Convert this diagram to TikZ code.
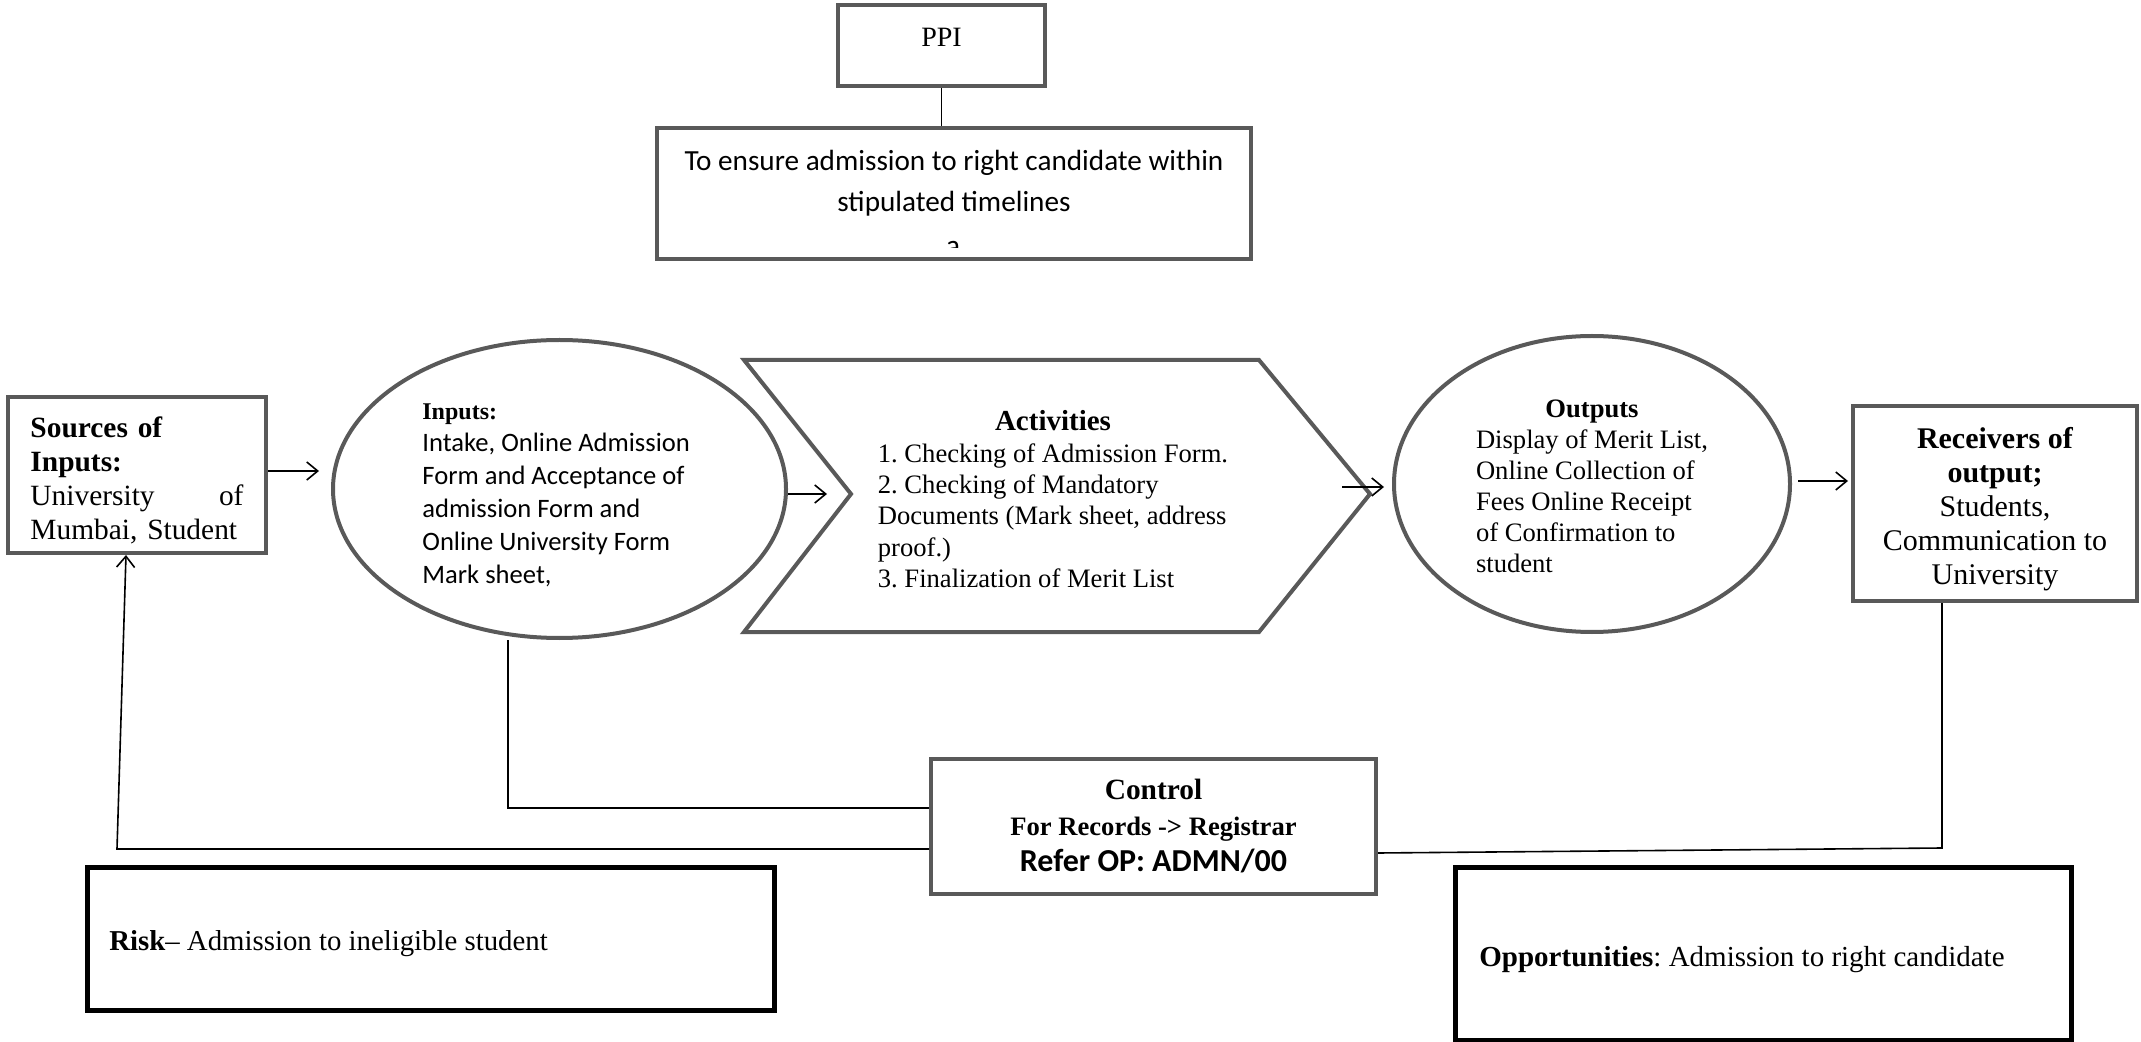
\documentclass[tikz,border=0pt]{standalone}
\usepackage{fontspec}
\setmainfont{Liberation Serif}
\newfontfamily\calfont{Carlito}
\usetikzlibrary{arrows.meta,shapes.geometric}
\definecolor{boxgray}{RGB}{89,89,89}
\newcommand\setfs[2]{\fontsize{#1}{#2}\selectfont}
\frenchspacing
\begin{document}
\begin{tikzpicture}[x=0.5pt,y=-0.5pt,
  gbox/.style={draw=boxgray,line width=2pt,rectangle,inner sep=0pt},
  bbox/.style={draw=black,line width=2.5pt,rectangle,inner sep=0pt},
  gell/.style={draw=boxgray,line width=2pt,ellipse,inner sep=0pt},
  conn/.style={draw=black,line width=0.8pt},
  arr/.style={conn,-{Straight Barb[length=5.5pt,width=9pt]}},
  txt/.style={inner sep=0pt}
  ]
\useasboundingbox (0,0) rectangle (2141,1042);

% PPI and goal
\node[gbox,minimum width=103.5pt,minimum height=40.5pt] (ppi) at (941.5,45.5) {};
\node[txt,font=\setfs{14}{16}] (ppitxt) at (941.5,37) {PPI};
\begin{scope}
  \clip (900,238) rectangle (1010,248);
  \node[txt,anchor=north,font=\calfont\setfs{14.6}{16}] (goalcut) at (953,241) {a};
\end{scope}
\node[gbox,minimum width=297pt,minimum height=65.5pt] (goal) at (954,193.5) {};
\node[txt,align=center,font=\calfont\setfs{14.6}{20.5}] (goaltxt) at (954,183.5)
  {To ensure admission to right candidate within\\stipulated timelines};

% Sources
\node[gbox,minimum width=129pt,minimum height=78pt] (src) at (137,475) {};
\node[txt,text width=106.5pt,align=left,font=\setfs{14.7}{16.9}] (srctxt) at (137,480.5)
  {\textbf{Sources of}\\\textbf{Inputs:}\\\leavevmode\hbox to 106.5pt{University\hfill of}\\Mumbai, Student};

% Inputs ellipse
\node[gell,minimum width=226.5pt,minimum height=149pt] (inp) at (559.5,489) {};
\node[txt,anchor=west,align=left,font=\calfont\setfs{13.3}{16.4}] (inptxt) at (422,495)
  {{\rmfamily\bfseries\setfs{12}{16.4}Inputs:}\\Intake, Online Admission\\Form and Acceptance of\\admission Form and\\Online University Form\\Mark sheet,};

% Activities chevron
\draw[draw=boxgray,line width=2pt,line join=miter]
  (744,360) -- (1259,360) -- (1370,494) -- (1259,632) -- (744,632) -- (851,494) -- cycle;
\coordinate (actnotch) at (851,494);
\node[txt,font=\setfs{13.3}{15.7}] (acttxt) at (1053,503)
  {\begin{tabular}{@{}l@{}}\multicolumn{1}{@{}c@{}}{\setfs{14.5}{15.7}\bfseries Activities}\\
   1. Checking of Admission Form.\\
   2. Checking of Mandatory\\
   Documents (Mark sheet, address\\
   proof.)\\
   3. Finalization of Merit List\end{tabular}};

% Outputs ellipse
\node[gell,minimum width=198pt,minimum height=148pt] (out) at (1592,484) {};
\node[txt,font=\setfs{13.3}{15.5}] (outtxt) at (1592,489)
  {\begin{tabular}{@{}l@{}}\multicolumn{1}{@{}c@{}}{\bfseries Outputs}\\
   Display of Merit List,\\
   Online Collection of\\
   Fees Online Receipt\\
   of Confirmation to\\
   student\end{tabular}};

% Receivers
\node[gbox,minimum width=142pt,minimum height=97.5pt] (rcv) at (1995,503.5) {};
\node[txt,align=center,font=\setfs{15}{17}] (rcvtxt) at (1995,509)
  {\textbf{Receivers of}\\\textbf{output;}\\Students,\\Communication to\\University};

% Control
\node[gbox,minimum width=222.5pt,minimum height=67.5pt,align=center,font=\setfs{13.3}{18}\bfseries] (ctl) at (1153.5,826.5)
  {{\setfs{14.7}{18}Control}\\For Records -> Registrar\\{\calfont\setfs{16}{18}Refer OP: ADMN/00}};

% Risk and Opportunities
\node[bbox,minimum width=343.5pt,minimum height=71.5pt] (risk) at (430.5,938.5) {};
\node[txt,anchor=west,font=\setfs{14.4}{17}] (risktxt) at (109,944) {\textbf{Risk}– Admission to ineligible student};
\node[bbox,minimum width=308pt,minimum height=86.5pt] (opp) at (1763,953.5) {};
\node[txt,anchor=west,font=\setfs{14.5}{17}] (opptxt) at (1479,959.5) {\textbf{Opportunities}: Admission to right candidate};

% Connectors
\draw[conn] (ppi.south) -- (ppi.south |- goal.north);
\coordinate (s1) at ([yshift=2pt]src.east);
\draw[arr,shorten >=6pt] (s1) -- (s1 -| inp.west);
\draw[arr,shorten >=12pt] (inp.east |- actnotch) -- (actnotch);
\coordinate (a2s) at (1342,487);
\draw[arr,shorten >=4pt] (a2s) -- (a2s -| out.west);
\coordinate (o1) at ([xshift=3pt,yshift=1.5pt]out.east);
\draw[arr,shorten >=1.5pt] (o1) -- (o1 -| rcv.west);
\coordinate (r1) at ([xshift=-26.5pt]rcv.south);
\coordinate (r2) at (r1 |- 0,848);
\draw[conn] (r1) -- (r2) -- ([yshift=-13.25pt]ctl.east);
\coordinate (i1) at ([xshift=-25.75pt]inp.south);
\coordinate (i2) at (i1 |- 0,808);
\draw[conn] (i1) -- (i2) -- (ctl.west |- i2);
\coordinate (k1) at (117,849);
\draw[arr] ([yshift=-11.25pt]ctl.west) -- (k1) -- ([xshift=-5.5pt]src.south);
\end{tikzpicture}
\end{document}
